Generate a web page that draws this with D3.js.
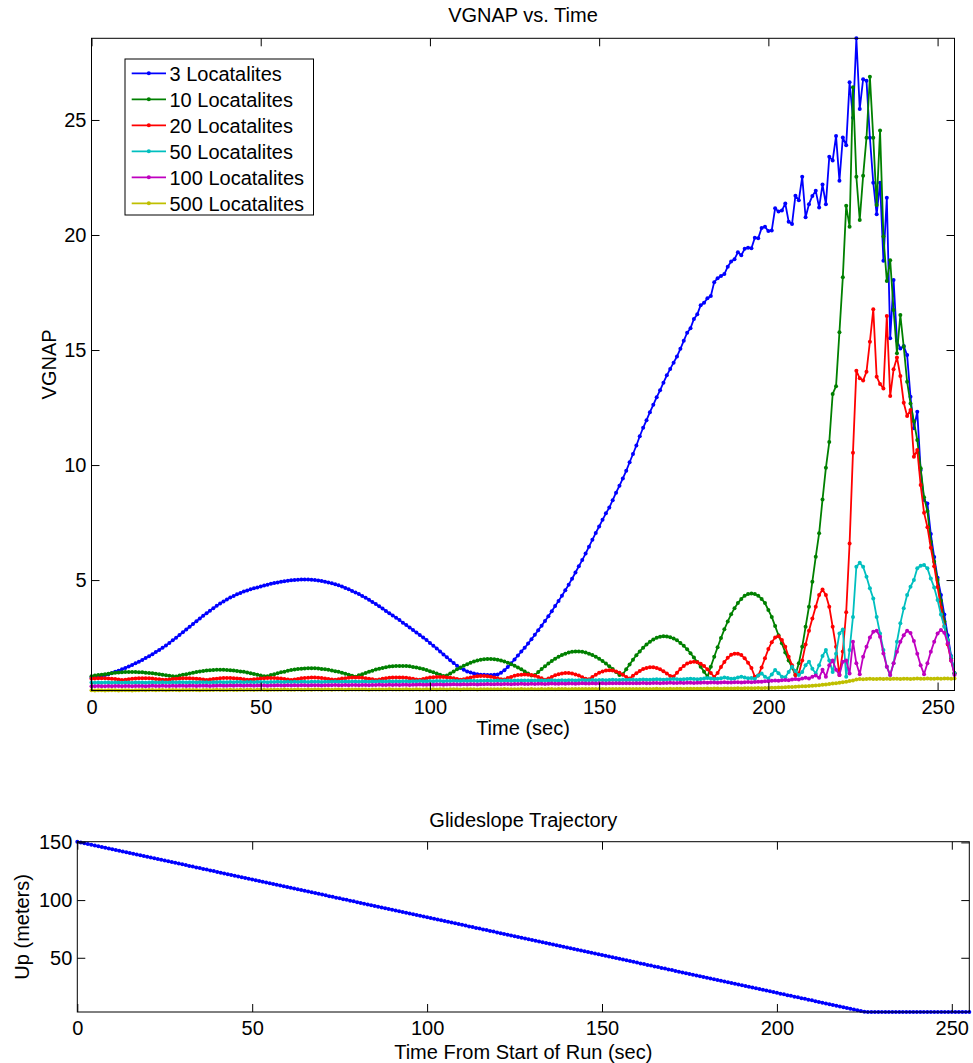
<!DOCTYPE html>
<html><head><meta charset="utf-8">
<script src="https://cdn.jsdelivr.net/npm/d3@7"></script>
<style>body{margin:0;background:#fff}svg{display:block}text{font-family:"Liberation Sans",Arial,sans-serif}</style>
</head><body>
<svg id="chart" width="973" height="1063"></svg>
<script>
// ---------- DATA ----------
const time = d3.range(0, 256); // sample times, 1 s apart
const xTicks = [0, 50, 100, 150, 200, 250];
const yTicksTop = [5, 10, 15, 20, 25];
const yTicksBottom = [50, 100, 150];
const seriesNames = ["3 Locatalites","10 Locatalites","20 Locatalites","50 Locatalites","100 Locatalites","500 Locatalites"];
const seriesColors = ["#0000ff","#008000","#ff0000","#00bfbf","#bf00bf","#bfbf00"];

const loc3 = [
0.75,0.77,0.80,0.83,0.87,0.91,0.96,1.01,1.06,1.12,
1.18,1.24,1.31,1.38,1.45,1.53,1.61,1.69,1.78,1.87,
1.96,2.06,2.16,2.27,2.38,2.49,2.61,2.73,2.85,2.97,
3.09,3.21,3.33,3.45,3.56,3.67,3.78,3.88,3.98,4.07,
4.16,4.24,4.31,4.38,4.44,4.50,4.55,4.60,4.64,4.68,
4.72,4.76,4.80,4.84,4.87,4.90,4.93,4.95,4.97,4.99,
5.00,5.01,5.02,5.02,5.02,5.01,5.00,4.98,4.96,4.93,
4.90,4.86,4.82,4.77,4.72,4.66,4.60,4.53,4.46,4.39,
4.31,4.23,4.14,4.05,3.96,3.86,3.76,3.66,3.56,3.46,
3.36,3.26,3.15,3.05,2.94,2.83,2.72,2.61,2.50,2.39,
2.27,2.15,2.03,1.90,1.77,1.64,1.51,1.39,1.28,1.18,
1.10,1.03,0.98,0.94,0.91,0.89,0.88,0.87,0.87,0.88,
0.90,0.97,1.08,1.22,1.38,1.55,1.72,1.89,2.06,2.24,
2.43,2.62,2.82,3.02,3.22,3.43,3.65,3.87,4.09,4.32,
4.56,4.80,5.06,5.33,5.60,5.87,6.15,6.45,6.75,7.05,
7.33,7.62,7.90,8.15,8.47,8.80,9.10,9.42,9.75,10.12,
10.48,10.85,11.25,11.62,11.95,12.30,12.62,12.95,13.25,13.58,
13.90,14.18,14.45,14.72,15.05,15.40,15.75,15.95,16.35,16.55,
16.95,17.05,17.25,17.35,17.95,18.12,18.22,18.30,18.62,18.85,
18.95,19.25,19.12,19.40,19.45,19.42,19.88,19.86,20.30,20.36,
20.17,20.20,21.16,21.02,21.06,21.37,20.58,20.48,21.71,21.51,
22.53,20.77,21.34,21.70,21.92,21.20,22.19,21.34,23.40,23.24,
24.30,22.36,24.24,23.90,26.64,25.10,28.55,25.48,26.77,26.70,
24.23,22.27,20.90,22.27,18.88,21.62,15.51,18.04,15.40,15.07,
15.17,14.78,12.97,11.60,12.32,9.78,8.48,8.33,7.00,6.00,
5.10,4.35,3.50,2.60,1.70,0.95];

const loc10 = [
0.82,0.85,0.87,0.89,0.91,0.93,0.95,0.97,0.98,0.99,
1.00,1.00,1.00,1.00,0.99,0.99,0.97,0.96,0.95,0.93,
0.91,0.89,0.86,0.84,0.82,0.81,0.85,0.88,0.91,0.94,
0.97,1.00,1.03,1.05,1.07,1.08,1.09,1.10,1.10,1.10,
1.09,1.08,1.07,1.05,1.03,1.01,0.98,0.95,0.92,0.89,
0.85,0.82,0.82,0.87,0.91,0.95,0.99,1.02,1.06,1.09,
1.11,1.13,1.15,1.16,1.17,1.17,1.17,1.16,1.14,1.12,
1.10,1.07,1.04,1.01,0.97,0.93,0.89,0.84,0.80,0.86,
0.91,0.96,1.02,1.06,1.11,1.15,1.18,1.21,1.24,1.25,
1.26,1.27,1.27,1.26,1.25,1.22,1.20,1.17,1.13,1.09,
1.04,0.99,0.94,0.88,0.83,0.85,0.94,1.03,1.12,1.20,
1.28,1.34,1.41,1.46,1.50,1.54,1.56,1.57,1.57,1.56,
1.54,1.50,1.46,1.41,1.34,1.28,1.20,1.12,1.03,0.94,
0.85,0.87,1.00,1.13,1.25,1.37,1.48,1.58,1.67,1.74,
1.80,1.85,1.88,1.90,1.90,1.88,1.85,1.80,1.74,1.67,
1.58,1.48,1.37,1.25,1.13,1.00,0.87,0.91,1.12,1.33,
1.54,1.73,1.90,2.06,2.20,2.32,2.42,2.49,2.54,2.56,
2.55,2.52,2.46,2.38,2.27,2.14,1.99,1.82,1.63,1.44,
1.23,1.02,0.80,1.23,1.67,2.08,2.48,2.86,3.20,3.51,
3.78,4.00,4.18,4.32,4.39,4.42,4.39,4.32,4.18,4.00,
3.70,3.40,3.00,2.60,2.25,1.85,1.50,1.20,0.87,1.38,
2.10,2.97,3.84,4.93,6.01,7.03,8.50,9.88,11.00,13.09,
13.43,15.77,18.16,21.27,20.36,26.42,22.53,20.65,22.57,24.23,
26.88,24.23,21.30,24.54,19.93,18.00,18.90,16.74,14.86,16.52,
15.14,13.62,12.68,11.90,11.09,9.86,8.60,8.00,6.67,5.80,
5.00,4.10,3.20,2.40,1.60,0.95];

const loc20 = [
0.71,0.72,0.73,0.73,0.73,0.72,0.71,0.70,0.68,0.66,
0.67,0.69,0.71,0.72,0.73,0.73,0.73,0.73,0.72,0.70,0.69,0.67,
0.67,0.68,0.70,0.71,0.72,0.73,0.73,0.73,0.72,0.71,0.70,0.68,0.66,
0.68,0.70,0.71,0.73,0.74,0.74,0.74,0.73,0.72,0.71,0.69,0.67,
0.67,0.69,0.70,0.72,0.73,0.74,0.74,0.74,0.73,0.72,0.70,0.68,0.66,
0.68,0.70,0.73,0.74,0.75,0.76,0.76,0.75,0.74,0.72,0.70,0.68,
0.67,0.69,0.72,0.73,0.75,0.76,0.76,0.76,0.75,0.73,0.71,0.69,0.66,
0.68,0.71,0.73,0.75,0.76,0.77,0.77,0.76,0.75,0.73,0.71,0.68,
0.67,0.70,0.73,0.76,0.78,0.79,0.79,0.79,0.77,0.75,0.73,0.70,0.67,
0.69,0.73,0.77,0.80,0.82,0.83,0.83,0.82,0.80,0.77,0.73,0.69,
0.68,0.74,0.79,0.84,0.87,0.89,0.90,0.89,0.87,0.84,0.79,0.73,0.67,
0.72,0.79,0.86,0.91,0.94,0.96,0.96,0.94,0.90,0.85,0.78,0.71,
0.69,0.79,0.89,0.97,1.03,1.07,1.08,1.07,1.03,0.97,0.88,0.79,0.72,
0.84,0.95,1.05,1.13,1.18,1.21,1.21,1.18,1.12,1.04,0.94,0.83,
0.81,0.97,1.14,1.27,1.37,1.43,1.45,1.43,1.36,1.26,1.12,0.96,0.79,
0.96,1.22,1.44,1.62,1.75,1.80,1.80,1.74,1.60,1.41,1.18,
0.80,0.85,1.20,1.60,2.00,2.30,2.50,2.56,2.40,2.10,1.67,1.30,0.87,
0.94,1.50,2.20,2.80,3.33,3.84,4.35,4.59,4.35,3.84,2.97,
2.10,0.87,1.90,3.60,6.59,10.54,14.10,13.77,13.67,14.06,
15.36,16.77,13.84,13.52,13.33,16.48,13.00,14.16,14.68,13.87,
12.71,12.13,12.39,10.36,10.65,9.13,7.93,7.30,6.40,5.60,
4.70,3.80,3.00,2.20,1.50,0.94];

const loc50 = [
0.55,0.54,0.55,0.54,0.55,0.55,0.54,0.55,0.55,0.54,
0.55,0.55,0.54,0.55,0.55,0.55,0.54,0.55,0.56,0.55,
0.55,0.56,0.55,0.55,0.56,0.55,0.56,0.56,0.55,0.56,
0.56,0.55,0.56,0.56,0.56,0.55,0.56,0.56,0.57,0.56,
0.56,0.57,0.56,0.57,0.57,0.56,0.57,0.57,0.56,0.57,
0.57,0.57,0.56,0.57,0.57,0.58,0.57,0.57,0.58,0.57,
0.58,0.57,0.58,0.58,0.57,0.58,0.58,0.58,0.57,0.58,
0.58,0.58,0.59,0.58,0.58,0.59,0.58,0.59,0.59,0.58,
0.59,0.59,0.58,0.59,0.59,0.60,0.59,0.59,0.60,0.59,
0.60,0.59,0.60,0.60,0.59,0.60,0.60,0.61,0.60,0.60,
0.61,0.60,0.61,0.61,0.60,0.61,0.61,0.62,0.61,0.61,
0.62,0.61,0.62,0.62,0.61,0.62,0.62,0.63,0.62,0.62,
0.63,0.62,0.63,0.63,0.62,0.63,0.63,0.64,0.63,0.63,
0.64,0.63,0.64,0.64,0.63,0.64,0.65,0.64,0.64,0.65,
0.64,0.65,0.65,0.64,0.65,0.66,0.65,0.65,0.66,0.65,
0.66,0.66,0.65,0.66,0.67,0.66,0.66,0.67,0.66,0.67,
0.67,0.66,0.67,0.68,0.67,0.67,0.68,0.69,0.68,0.67,
0.68,0.69,0.70,0.69,0.68,0.69,0.70,0.71,0.70,0.69,
0.70,0.72,0.74,0.72,0.70,0.71,0.73,0.76,0.74,0.71,
0.72,0.76,0.80,0.77,0.73,0.74,
0.70,0.85,0.94,0.80,0.72,0.90,1.09,0.95,0.80,0.78,
1.00,1.23,1.05,0.87,1.00,1.30,1.45,1.15,0.94,1.30,
1.70,1.96,1.50,1.00,1.80,2.68,2.85,0.80,1.96,3.40,
5.58,5.75,5.58,5.14,4.64,4.20,3.40,2.68,1.96,1.23,
0.87,1.38,2.32,3.12,3.77,4.35,4.71,5.00,5.51,5.62,
5.65,5.51,5.07,4.68,4.13,3.50,2.97,2.39,1.67,0.94];

const loc100 = [
0.39,0.39,0.40,0.39,0.39,0.40,0.39,0.40,0.40,0.39,
0.40,0.40,0.39,0.40,0.40,0.40,0.39,0.40,0.41,0.40,
0.40,0.41,0.40,0.40,0.41,0.40,0.41,0.41,0.40,0.41,
0.41,0.40,0.41,0.41,0.41,0.40,0.41,0.41,0.42,0.41,
0.41,0.42,0.41,0.42,0.42,0.41,0.42,0.42,0.41,0.42,
0.42,0.42,0.41,0.42,0.42,0.43,0.42,0.42,0.43,0.42,
0.43,0.42,0.43,0.43,0.42,0.43,0.43,0.43,0.42,0.43,
0.43,0.43,0.44,0.43,0.43,0.44,0.43,0.44,0.44,0.43,
0.44,0.44,0.43,0.44,0.44,0.45,0.44,0.44,0.45,0.44,
0.45,0.44,0.45,0.45,0.44,0.45,0.45,0.46,0.45,0.45,
0.46,0.45,0.46,0.46,0.45,0.46,0.46,0.47,0.46,0.46,
0.47,0.46,0.47,0.47,0.46,0.47,0.47,0.48,0.47,0.47,
0.48,0.47,0.48,0.48,0.47,0.48,0.48,0.49,0.48,0.48,
0.49,0.48,0.49,0.49,0.48,0.49,0.50,0.49,0.49,0.50,
0.49,0.50,0.50,0.49,0.50,0.51,0.50,0.50,0.51,0.50,
0.51,0.51,0.50,0.51,0.52,0.51,0.51,0.52,0.51,0.52,
0.52,0.51,0.52,0.53,0.52,0.52,0.53,0.53,0.52,0.53,
0.53,0.54,0.53,0.53,0.54,0.53,0.54,0.54,0.53,0.54,
0.54,0.55,0.54,0.55,0.55,0.54,0.55,0.56,0.55,0.55,
0.56,0.56,0.55,0.56,0.57,0.56,0.57,0.58,
0.58,0.60,0.60,0.62,0.63,0.62,0.65,0.66,0.65,0.68,
0.70,0.68,0.72,0.75,0.72,0.80,0.85,0.75,1.10,0.80,
1.30,1.50,1.10,0.87,1.45,1.50,0.94,2.32,1.38,0.91,
1.67,2.10,2.50,2.75,2.80,2.54,1.81,1.23,0.87,1.38,
1.88,2.32,2.60,2.80,2.70,2.35,1.80,1.30,0.91,1.38,
1.88,2.32,2.68,2.83,2.71,2.25,1.50,0.87];

const loc500 = [
0.21,0.20,0.21,0.21,0.20,0.21,0.21,0.21,0.20,0.21,
0.21,0.21,0.20,0.21,0.21,0.22,0.21,0.22,0.22,0.21,
0.22,0.22,0.21,0.22,0.22,0.22,0.21,0.22,0.22,0.22,
0.22,0.22,0.21,0.22,0.22,0.22,0.22,0.23,0.22,0.22,
0.22,0.23,0.22,0.22,0.23,0.22,0.23,0.23,0.22,0.23,
0.23,0.23,0.22,0.23,0.23,0.23,0.23,0.24,0.23,0.23,
0.23,0.24,0.23,0.23,0.24,0.23,0.24,0.24,0.23,0.24,
0.24,0.23,0.24,0.24,0.24,0.23,0.24,0.24,0.24,0.24,
0.24,0.24,0.23,0.24,0.24,0.24,0.24,0.24,0.25,0.24,
0.24,0.24,0.24,0.25,0.24,0.24,0.25,0.24,0.24,0.25,
0.24,0.25,0.24,0.25,0.25,0.24,0.25,0.25,0.25,0.24,
0.25,0.25,0.25,0.25,0.24,0.25,0.25,0.25,0.25,0.25,
0.25,0.25,0.26,0.25,0.25,0.25,0.25,0.26,0.25,0.25,
0.26,0.25,0.25,0.26,0.25,0.26,0.26,0.25,0.26,0.26,
0.26,0.25,0.26,0.26,0.26,0.26,0.26,0.26,0.27,0.26,
0.26,0.26,0.26,0.27,0.26,0.26,0.27,0.26,0.27,0.27,
0.26,0.27,0.27,0.27,0.27,0.27,0.27,0.28,0.27,0.27,
0.27,0.28,0.27,0.28,0.28,0.27,0.28,0.28,0.28,0.28,
0.28,0.28,0.29,0.28,0.29,0.29,0.28,0.29,0.29,0.29,
0.29,0.30,0.29,0.30,0.30,0.30,0.30,0.31,0.30,0.31,
0.31,0.32,0.32,0.33,0.33,0.34,0.35,0.35,0.36,0.37,
0.38,0.39,0.40,0.41,0.42,0.43,0.45,0.46,0.48,0.50,
0.52,0.54,0.56,0.58,0.61,0.64,0.68,0.70,0.69,0.70,
0.71,0.70,0.70,0.71,0.70,0.71,0.70,0.71,0.71,0.70,
0.71,0.71,0.70,0.71,0.72,0.71,0.71,0.72,0.71,0.71,
0.72,0.71,0.72,0.72,0.71,0.72];

const upMeters = [
150.6,149.9,149.3,148.6,148.0,147.3,146.7,146.0,145.4,144.7,
144.1,143.4,142.7,142.1,141.4,140.8,140.1,139.5,138.8,138.2,
137.5,136.8,136.2,135.5,134.9,134.2,133.6,132.9,132.3,131.6,
131.0,130.3,129.6,129.0,128.3,127.7,127.0,126.4,125.7,125.1,
124.4,123.7,123.1,122.4,121.8,121.1,120.5,119.8,119.2,118.5,
117.9,117.2,116.5,115.9,115.2,114.6,113.9,113.3,112.6,112.0,
111.3,110.6,110.0,109.3,108.7,108.0,107.4,106.7,106.1,105.4,
104.8,104.1,103.4,102.8,102.1,101.5,100.8,100.2,99.5,98.9,
98.2,97.5,96.9,96.2,95.6,94.9,94.3,93.6,93.0,92.3,
91.7,91.0,90.3,89.7,89.0,88.4,87.7,87.1,86.4,85.8,
85.1,84.4,83.8,83.1,82.5,81.8,81.2,80.5,79.9,79.2,
78.6,77.9,77.2,76.6,75.9,75.3,74.6,74.0,73.3,72.7,
72.0,71.3,70.7,70.0,69.4,68.7,68.1,67.4,66.8,66.1,
65.5,64.8,64.1,63.5,62.8,62.2,61.5,60.9,60.2,59.6,
58.9,58.2,57.6,56.9,56.3,55.6,55.0,54.3,53.7,53.0,
52.4,51.7,51.0,50.4,49.7,49.1,48.4,47.8,47.1,46.5,
45.8,45.1,44.5,43.8,43.2,42.5,41.9,41.2,40.6,39.9,
39.3,38.6,37.9,37.3,36.6,36.0,35.3,34.7,34.0,33.4,
32.7,32.0,31.4,30.7,30.1,29.4,28.8,28.1,27.5,26.8,
26.2,25.5,24.8,24.2,23.5,22.9,22.2,21.6,20.9,20.3,
19.6,18.9,18.3,17.6,17.0,16.3,15.7,15.0,14.4,13.7,
13.1,12.4,11.7,11.1,10.4,9.8,9.1,8.5,7.8,7.2,
6.5,5.8,5.2,4.5,3.9,3.2,3.0,3.0,3.0,3.0,
3.0,3.0,3.0,3.0,3.0,3.0,3.0,3.0,3.0,3.0,
3.0,3.0,3.0,3.0,3.0,3.0,3.0,3.0,3.0,3.0,
3.0,3.0,3.0,3.0,3.0,3.0];

const allSeries = [loc3, loc10, loc20, loc50, loc100, loc500];

// ---------- DRAW ----------
const svg = d3.select("#chart");
const FONT = 20;

const P1 = {L: 91.5, R: 954.5, T: 38.3, B: 690.5};
const P2 = {L: 77.3, R: 969.3, T: 841.7, B: 1012};

const x1 = d3.scaleLinear().domain([0, 255]).range([P1.L, P1.R]);
const y1 = d3.scaleLinear().domain(d3.extent(allSeries.flat())).range([P1.B, P1.T]);
const x2 = d3.scaleLinear().domain([0, 255]).range([P2.L, P2.R]);
const y2 = d3.scaleLinear().domain(d3.extent(upMeters)).range([P2.B, P2.T]);

function frame(P, x, y, yt) {
  const g = svg.append("g");
  const styleAxis = s => {
    s.select(".domain").remove();
    s.selectAll("text").attr("font-size", FONT).attr("fill", "#000")
      .attr("font-family", '"Liberation Sans", Arial, sans-serif');
    s.selectAll("line").attr("stroke", "#000");
  };
  g.append("g").attr("transform", `translate(0,${P.B})`)
    .call(d3.axisBottom(x).tickValues(xTicks).tickSizeInner(-8).tickSizeOuter(0).tickPadding(9))
    .call(styleAxis);
  g.append("g").attr("transform", `translate(0,${P.T})`)
    .call(d3.axisTop(x).tickValues(xTicks).tickSizeInner(-8).tickSizeOuter(0).tickFormat(() => ""))
    .call(styleAxis);
  g.append("g").attr("transform", `translate(${P.L},0)`)
    .call(d3.axisLeft(y).tickValues(yt).tickSizeInner(-8).tickSizeOuter(0).tickPadding(5))
    .call(styleAxis);
  g.append("g").attr("transform", `translate(${P.R},0)`)
    .call(d3.axisRight(y).tickValues(yt).tickSizeInner(-8).tickSizeOuter(0).tickFormat(() => ""))
    .call(styleAxis);
  g.append("rect").attr("x", P.L).attr("y", P.T).attr("width", P.R - P.L).attr("height", P.B - P.T)
    .attr("fill", "none").attr("stroke", "#000").attr("stroke-width", 1);
}

function series(x, y, data, color) {
  const g = svg.append("g");
  const line = d3.line().x((d, i) => x(time[i])).y(d => y(d));
  g.append("path").datum(data).attr("d", line).attr("fill", "none")
    .attr("stroke", color).attr("stroke-width", 1.8).attr("stroke-linejoin", "round");
  g.selectAll("circle").data(data).join("circle")
    .attr("cx", (d, i) => x(time[i])).attr("cy", d => y(d)).attr("r", 2).attr("fill", color);
}

// Top chart
allSeries.forEach((s, k) => series(x1, y1, s, seriesColors[k]));
frame(P1, x1, y1, yTicksTop);

svg.append("text").attr("x", (P1.L + P1.R) / 2).attr("y", 22).attr("text-anchor", "middle")
  .attr("font-size", FONT).text("VGNAP vs. Time");
svg.append("text").attr("x", (P1.L + P1.R) / 2).attr("y", 735).attr("text-anchor", "middle")
  .attr("font-size", FONT).text("Time (sec)");
svg.append("text").attr("transform", `translate(55.5,${(P1.T + P1.B) / 2}) rotate(-90)`)
  .attr("text-anchor", "middle").attr("font-size", FONT).text("VGNAP");

// Legend
const lg = svg.append("g").attr("transform", "translate(125,59)");
lg.append("rect").attr("width", 188.5).attr("height", 156).attr("fill", "#fff").attr("stroke", "#000").attr("stroke-width", 1);
seriesNames.forEach((n, k) => {
  const yy = 14.3 + k * 26;
  lg.append("line").attr("x1", 6.7).attr("x2", 41).attr("y1", yy).attr("y2", yy)
    .attr("stroke", seriesColors[k]).attr("stroke-width", 1.8);
  lg.append("circle").attr("cx", 23.8).attr("cy", yy).attr("r", 2).attr("fill", seriesColors[k]);
  lg.append("text").attr("x", 44.5).attr("y", yy + 7.2).attr("font-size", FONT).text(n);
});

// Bottom chart
series(x2, y2, upMeters, "#0000ff");
frame(P2, x2, y2, yTicksBottom);
svg.append("text").attr("x", (P2.L + P2.R) / 2).attr("y", 827).attr("text-anchor", "middle")
  .attr("font-size", FONT).text("Glideslope Trajectory");
svg.append("text").attr("x", (P2.L + P2.R) / 2).attr("y", 1059).attr("text-anchor", "middle")
  .attr("font-size", FONT).text("Time From Start of Run (sec)");
svg.append("text").attr("transform", `translate(28.5,${(P2.T + P2.B) / 2}) rotate(-90)`)
  .attr("text-anchor", "middle").attr("font-size", FONT).text("Up (meters)");
</script>
</body></html>
